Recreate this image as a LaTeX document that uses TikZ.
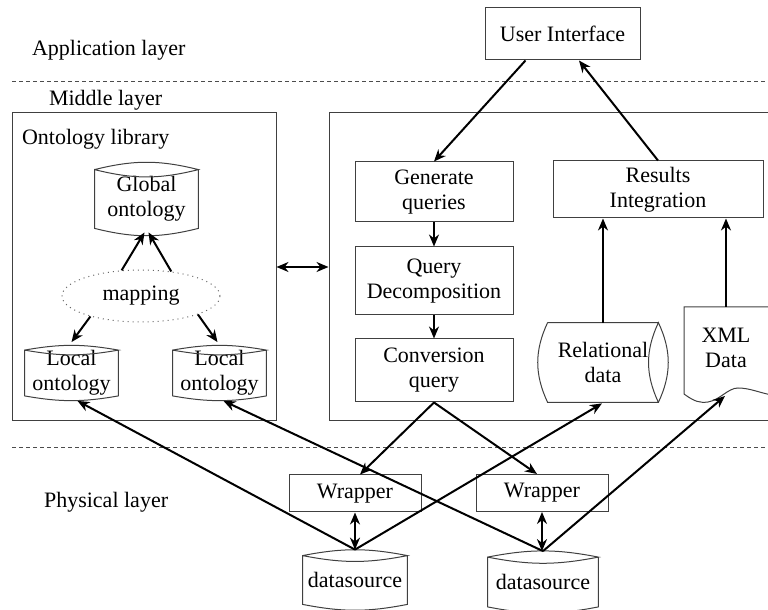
\documentclass[tikz,border=0pt]{standalone}
\usepackage{fontspec}
\setmainfont{Liberation Serif}
\usetikzlibrary{arrows.meta,shapes.geometric}
\tikzset{
  box/.style={draw=black!75,line width=0.5pt,align=center,inner sep=1pt},
  body/.style={align=center,inner sep=0pt},
  shapeline/.style={draw=black!75,line width=0.5pt},
  arr/.style={-{Stealth[length=6pt,width=5pt]},line width=1pt},
  darr/.style={{Stealth[length=6pt,width=5pt]}-{Stealth[length=6pt,width=5pt]},line width=1pt},
  layerline/.style={dash pattern=on 2pt off 1.5pt,black!70,line width=0.5pt},
}
% drum outline round a named body node: #1 node, #2 bend
\newcommand{\drum}[2]{%
  \draw[shapeline] (#1.north west) to[bend left=#2] (#1.north east) to[bend left=#2] (#1.north west)
    -- (#1.south west) to[bend right=#2] (#1.south east) -- (#1.north east);}
\begin{document}
\begin{tikzpicture}[x=0.5pt,y=-0.5pt,font=\fontsize{11}{12.5}\selectfont]
\useasboundingbox (0,0) rectangle (768,610);
\clip (0,0) rectangle (768,610);

% layers
\draw[layerline] (12,82) -- (768,82) ;
\draw[layerline] (12,448) -- (768,448) ;
\node[anchor=west] (app) at (25,50) {Application layer};
\node[anchor=west] (midl) at (42,100) {Middle layer};
\node[anchor=west] (phys) at (37,502) {Physical layer};

% frames
\node[box,minimum width=132pt,minimum height=154pt] (lib) at (144,267) {};
\node[box,minimum width=230.5pt,minimum height=154pt] (proc) at (559.5,267) {};
\node[anchor=west] (libl) at (15,139) {Ontology library};

% ontology library
\node[body,minimum width=51.5pt,minimum height=29pt] (glo) at (146.5,199) {Global\\ontology};
\drum{glo}{14}
\node[ellipse,draw=black!60,dotted,line width=0.5pt,minimum width=79pt,minimum height=26pt] (map) at (141,296) {mapping};
\node[body,minimum width=46.5pt,minimum height=22pt] (lol) at (71.5,373) {Local\\ontology};
\drum{lol}{10}
\node[body,minimum width=46.5pt,minimum height=22pt] (lor) at (219.5,373) {Local\\ontology};
\drum{lor}{10}

% query processing
\node[box,minimum width=77.5pt,minimum height=26pt] (ui) at (562.5,34) {User Interface};
\node[box,minimum width=79pt,minimum height=30pt] (gq) at (434,192) {Generate\\queries};
\node[box,minimum width=79pt,minimum height=34pt] (qd) at (434,281) {Query\\Decomposition};
\node[box,minimum width=79pt,minimum height=31.5pt] (cq) at (434,370.5) {Conversion\\query};
\node[box,minimum width=105pt,minimum height=28.5pt] (ri) at (658,189.5) {Results\\Integration};
\node[body,minimum width=55pt,minimum height=39.5pt] (rel) at (603,362.5) {Relational\\data};
\draw[shapeline] (rel.north west) to[bend right=25] (rel.south west) -- (rel.south east)
  to[bend right=25] (rel.north east) to[bend right=25] (rel.south east) (rel.north east) -- (rel.north west) ;
\draw[shapeline] (684,307) -- (684,394) .. controls (695,402) and (700,403) .. (708,402)
  .. controls (720,400) and (728,388) .. (738,388) .. controls (750,388) and (760,393) .. (772,395) -- (772,307) -- cycle ;
\node[align=center] (xml) at (726,347.5) {XML\\Data};
\coordinate (xmlb) at (725,396);

% physical layer
\node[box,minimum width=66pt,minimum height=18.5pt] (wl) at (355,493.5) {Wrapper};
\node[box,minimum width=66pt,minimum height=18.5pt] (wr) at (542,493) {Wrapper};
\node[body,minimum width=52pt,minimum height=24pt] (dsl) at (355,580) {datasource};
\drum{dsl}{11}
\node[body,minimum width=55pt,minimum height=24.5pt] (dsr) at (543,582) {datasource};
\drum{dsr}{11}
\coordinate (dslt) at ([yshift=3pt]dsl.north);
\coordinate (dsrt) at ([yshift=3pt]dsr.north);

% connectors
\draw[arr] (map.127) -- ([xshift=-1pt,yshift=-2pt]glo.south) ;
\draw[arr] (map.39) -- ([xshift=1pt,yshift=-2pt]glo.south) ;
\draw[arr] (map.202) -- ([yshift=4pt]lol.north) ;
\draw[arr] (map.342) -- ([xshift=-1pt,yshift=4pt]lor.north) ;
\draw[darr] (lib.east) -- (proc.west) ;

\draw[arr] ([xshift=-18.5pt]ui.south) -- (gq.north) ;
\draw[arr] (ri.north) -- ([xshift=8.25pt]ui.south) ;
\draw[arr] (gq) -- (qd) ;
\draw[arr] (qd) -- (cq) ;
\draw[arr] (rel.north) -- (rel.north |- ri.south) ;
\draw[arr] (xml.north |- 0,307) -- (xml.north |- ri.south) ;

\draw[arr] (cq.south) -- ([xshift=2.5pt]wl.north) ;
\draw[arr] (cq.south) -- ([xshift=-2.5pt]wr.north) ;
\draw[darr] (wl.south) -- (wl.south |- dslt) ;
\draw[darr] (wr.south) -- (wr.south |- dsrt) ;

\draw[arr] (dslt) -- ([xshift=3pt,yshift=-2.5pt]lol.south) ;
\draw[arr] (dslt) -- ([xshift=-0.5pt,yshift=-0.5pt]rel.south) ;
\draw[arr] (dsrt) -- ([xshift=2pt,yshift=-2.5pt]lor.south) ;
\draw[arr] (dsrt) -- (xmlb) ;
\end{tikzpicture}
\end{document}
